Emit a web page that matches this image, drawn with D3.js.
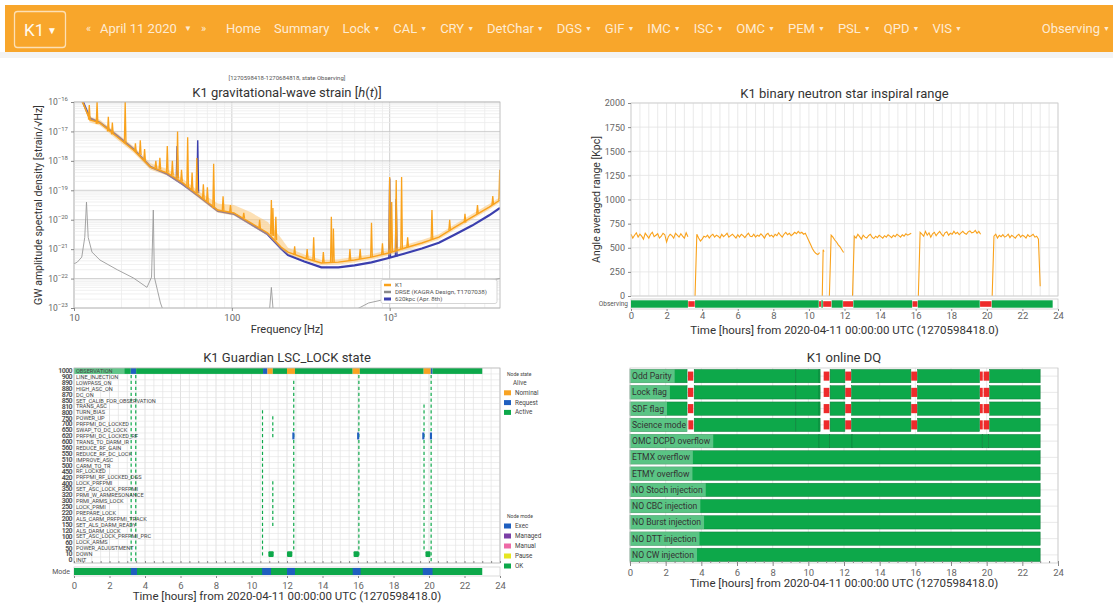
<!DOCTYPE html>
<html><head><meta charset="utf-8">
<script src="https://cdn.jsdelivr.net/npm/d3@7"></script>
<style>
body{margin:0;background:#fff;font-family:Roboto,"Open Sans",sans-serif;}
svg{display:block}
</style></head><body>
<svg id="c" width="1113" height="604"></svg>
<script>
// ---------------- DATA ----------------
const navItems = ["Home","Summary","Lock","CAL","CRY","DetChar","DGS","GIF","IMC","ISC","OMC","PEM","PSL","QPD","VIS"];
const navDropdown = [false,false,true,true,true,true,true,true,true,true,true,true,true,true,true];

// spectrum (log10 ASD)
const specFreq = [10.5,11.4,12.6,14.6,18.8,23.8,30.5,39,49,63.5,81.5,103,132,169,205,227,288,369,473,598,767,986,1247,1600,2050,2594,3327,4270,5000];
const k1Asd  = [-15.7,-16.03,-16.61,-16.71,-17.19,-17.63,-18.21,-18.41,-18.75,-19.23,-19.67,-19.77,-20.11,-20.45,-20.93,-21.10,-21.30,-21.47,-21.44,-21.37,-21.27,-21.13,-20.96,-20.79,-20.59,-20.25,-19.91,-19.57,-19.33];
const k1Hi   = [-15.62,-15.95,-16.5,-16.6,-17.07,-17.5,-18.08,-18.28,-18.62,-19.08,-19.45,-19.5,-19.75,-20.08,-20.62,-20.95,-21.18,-21.36,-21.34,-21.27,-21.17,-21.03,-20.86,-20.69,-20.49,-20.15,-19.81,-19.47,-19.24];
const k1Lo   = [-15.78,-16.1,-16.7,-16.8,-17.28,-17.72,-18.3,-18.5,-18.84,-19.32,-19.76,-19.86,-20.2,-20.54,-21.0,-21.18,-21.38,-21.55,-21.52,-21.45,-21.35,-21.21,-21.04,-20.87,-20.67,-20.33,-19.99,-19.65,-19.41];
const refAsd = [-15.7,-16.0,-16.55,-16.7,-17.15,-17.6,-18.2,-18.45,-18.8,-19.25,-19.7,-19.8,-20.15,-20.5,-20.98,-21.2,-21.42,-21.62,-21.62,-21.55,-21.45,-21.3,-21.15,-20.98,-20.78,-20.5,-20.2,-19.85,-19.6];
// spectral lines: [freq, base, peak]
const k1Lines = [[12.5,-16.6,-16.1],[14,-16.75,-16.0],[16.5,-17.0,-16.5],[17.5,-17.1,-16.7],[21.1,-17.4,-16.0],[24.5,-17.7,-17.4],[26.3,-17.8,-17.3],[28,-18.0,-17.6],[33,-18.25,-18.0],[35,-18.3,-17.9],[39,-18.4,-17.5],[42,-18.5,-18.0],[45.3,-18.6,-17.0],[48,-18.7,-18.3],[52.5,-18.9,-17.2],[56,-19.0,-18.4],[60,-19.1,-17.9],[66,-19.3,-18.8],[70,-19.4,-18.9],[76.7,-19.6,-18.1],[88,-19.7,-19.2],[98,-19.75,-19.5],[119,-19.95,-19.77],[150,-20.3,-20.0],[178,-20.5,-19.33],[182,-20.55,-19.6],[190,-20.7,-19.9],[250,-21.2,-20.9],[300,-21.3,-21.0],[330,-21.38,-20.6],[380,-21.47,-21.1],[427,-21.45,-19.9],[440,-21.45,-20.3],[560,-21.38,-21.0],[650,-21.33,-21.0],[767,-21.27,-20.1],[900,-21.18,-20.8],[1000,-21.13,-18.55],[1030,-21.1,-19.4],[1100,-21.05,-18.65],[1190,-21.0,-18.55],[1300,-20.93,-20.6],[1853,-20.68,-19.67],[2400,-20.35,-20.0],[3000,-20.1,-19.8],[3600,-19.8,-19.5],[4500,-19.5,-19.2],[4980,-19.33,-18.3]];
const refLines = [[45,-18.6,-17.5],[60.8,-19.1,-17.3],[1000,-21.3,-18.6],[1100,-21.25,-19.3]];
const designFreq = [10,10.5,11.2,11.7,12.0,12.3,13.0,14.6,18.8,23.8,29,31,31.8,32.3,33.8,35.3,38,172,178,184,500,735,890,1200,2000,5000];
const designAsd  = [-21.5,-21.44,-21.27,-20.6,-19.4,-20.6,-21.1,-21.37,-21.7,-21.98,-22.3,-21.95,-19.67,-21.95,-22.4,-22.83,-23.3,-23.3,-22.3,-23.3,-23.3,-22.83,-22.73,-22.6,-22.4,-22.0];
const specLegend = ["K1","DRSE (KAGRA Design, T1707038)","620kpc (Apr. 8th)"];

// BNS range: [start hour, step, values in kpc]
const rangeSegments = [
 [0,0.1,[640,600,630,655,610,640,620,590,650,625,600,640,660,615,630,645,600,620,650,635,560,615,640,625,600,650,630,610,645,620,600,655,615]],
 [3.6,0.1,[0,640,600,570,590,620,610,630,600,625, 640,610,630,620,600,640,615,630,650,610, 625,640,620,600,635,610,640,625,605,630, 650,620,615,640,610,630,620,645,625,600, 635,650,620,630,610,640,625,655,630,610, 640,660,635,650,625,640,660,645,670,650, 660,640,650,610,570,530,490,460,440,430, 450]],
 [10.75,0.05,[0,480,460]],
 [11.15,0.1,[0,630,610,580,560,530,510,480,450]],
 [12.45,0.1,[0,620,600,640,615,590,630,610,600,625, 640,610,595,620,605,630,615,600,625,610, 635,620,605,630,615,640,625,610,635,620, 645,630,640,650]],
 [16.15,0.1,[0,660,640,620,670,630,655,610,645,660, 625,650,670,640,620,655,665,630,650,640, 670,645,660,635,655,670,650,640,665,675, 655,660,680,650,670,640]],
 [20.3,0.1,[0,620,640,600,630,615,635,610,620,640, 605,630,615,600,625,640,610,630,620,600, 635,615,625,640,610,620,590,100]]
];
const rangeTicks = [0,250,500,750,1000,1250,1500,1750,2000];
const obsActive = [[0,3.2],[3.6,10.55],[10.7,10.78],[11.28,11.9],[12.5,15.8],[16.12,19.6],[20.28,23.7]];
const obsInactive = [[3.22,3.58],[10.57,10.68],[10.8,11.26],[11.92,12.48],[15.82,16.1],[19.62,20.26]];
const hourTicks = [0,2,4,6,8,10,12,14,16,18,20,22,24];

// Guardian
const stateNames = ["OBSERVATION","LINE_INJECTION","LOWPASS_ON","HIGH_ASC_ON","DC_ON","SET_CALIB_FOR_OBSERVATION","TRANS_ASC","TURN_BIAS","POWER_UP","PRFPMI_DC_LOCKED","SWAP_TO_DC_LOCK","PRFPMI_DC_LOCKED_RF","TRANS_TO_DARM_IR","REDUCE_RF_GAIN","REDUCE_RF_DC_LOCK","IMPROVE_ASC","CARM_TO_TR","RF_LOCKED","PRFPMI_RF_LOCKED_DGS","LOCK_PRFPMI","SET_ASC_LOCK_PRFPMI","PRMI_W_ARMRESONANCE","PRMI_ARMS_LOCK","LOCK_PRMI","PREPARE_LOCK","ALS_CARM_PRFPMI_TRACK","SET_ALS_DARM_READY","ALS_DARM_LOCK","SET_ASC_LOCK_PRFPMI_PRC","LOCK_ARMS","POWER_ADJUSTMENT","DOWN","INIT"];
const stateIndex = [1000,900,890,880,870,850,810,800,750,700,650,620,600,560,550,510,500,450,420,400,350,320,300,250,220,200,150,120,100,60,50,10,0];
// top row node state: [start, end, kind]
const topRowSegs = [[0,3.2,"active"],[3.2,3.5,"request"],[3.5,10.65,"active"],[10.65,10.9,"request"],[10.9,11.2,"nominal"],[11.2,12.0,"active"],[12.0,12.45,"nominal"],[12.45,15.7,"active"],[15.7,16.1,"nominal"],[16.1,19.7,"active"],[19.7,20.1,"nominal"],[20.1,20.2,"request"],[20.2,23.0,"active"]];
// transitions: [hour, first row, last row]
const transitions = [[3.22,1,32],[3.48,1,32],[10.62,7,31],[11.2,8,11],[11.2,19,26],[12.38,2,30],[16.05,1,31],[19.72,6,30],[20.12,1,32]];
const requestMarks = [[12.3,12.42,11],[15.95,16.07,11],[19.62,19.74,11],[20.05,20.17,11]];
const downMarks = [[10.95,11.25,31],[12.0,12.3,31],[15.75,16.05,31],[19.8,20.08,31]];
const modeExec = [[3.2,3.55],[10.6,11.1],[12.0,12.45],[15.7,16.15],[19.65,20.2]];
const modeEnd = 23.0;
const nodeStateLegend = [["Alive",null],["Nominal","nominal"],["Request","request"],["Active","active"]];
const nodeModeLegend = [["Exec","#1f5fbf"],["Managed","#7b3fa6"],["Manual","#ee6aa7"],["Pause","#e6e621"],["OK","#0da84a"]];

// Online DQ
const dqFlags = ["Odd Parity","Lock flag","SDF flag","Science mode","OMC DCPD overflow","ETMX overflow","ETMY overflow","NO Stoch injection","NO CBC injection","NO Burst injection","NO DTT injection","NO CW injection"];
const dqMainActive = [[0,3.2],[3.6,9.3],[9.3,10.6],[10.6,10.66],[11.22,12.05],[12.42,15.75],[16.12,19.6],[20.17,23.0]];
const dqMainInactive = [[3.25,3.55],[10.62,10.66],[10.86,11.18],[12.07,12.4],[15.77,16.1],[19.62,19.78],[19.83,20.15]];
const dqOmcActive = [[0,10.6],[10.6,11.2],[11.2,12.45],[12.45,19.75],[19.75,20.1],[20.1,23.0]];
const dqFullActive = [[0,23.0]];

// ---------------- DRAW ----------------
const svg = d3.select('#c');
const defs = svg.append('defs');
const GREEN = '#0da84a', RED = '#ee2b2b', BLUE = '#1f5fbf', ORANGE = '#f8a323';
const kindColor = {active:GREEN, request:BLUE, nominal:ORANGE};
const TXT = '#333', TICK = '#666', GRID = '#e3e3e3';

// header
svg.append('rect').attr('x',0).attr('y',52).attr('width',1113).attr('height',6).attr('fill','#f3f3f3');
svg.append('rect').attr('x',5).attr('y',5).attr('width',1108).attr('height',47).attr('fill','#f8a62b');
svg.append('rect').attr('x',14.5).attr('y',11.5).attr('width',51).attr('height',36).attr('rx',3)
  .attr('fill','none').attr('stroke','rgba(255,255,255,0.65)').attr('stroke-width',1.3);
svg.append('text').attr('x',24).attr('y',36).attr('font-size',17).attr('fill','#fffaf0').text('K1');
svg.append('text').attr('x',47).attr('y',34).attr('font-size',10).attr('fill','#fffaf0').text('▼');
const navCol = 'rgba(255,255,255,0.8)';
svg.append('text').attr('x',86).attr('y',32).attr('font-size',11).attr('fill',navCol).text('«');
svg.append('text').attr('x',100).attr('y',33).attr('font-size',13).attr('fill',navCol).text('April 11 2020');
svg.append('text').attr('x',184).attr('y',31).attr('font-size',8).attr('fill',navCol).text('▼');
svg.append('text').attr('x',201).attr('y',32).attr('font-size',11).attr('fill',navCol).text('»');
let nx = 226;
navItems.forEach((n,i)=>{
  const t = svg.append('text').attr('x',nx).attr('y',33).attr('font-size',13).attr('fill',navCol).text(n);
  if(navDropdown[i]) t.append('tspan').attr('font-size',7).attr('dx',3).attr('dy',-2).text('▼');
  nx += t.node().getBBox().width + 13;
});
const obsT = svg.append('text').attr('x',1110).attr('y',33).attr('font-size',13).attr('fill',navCol).attr('text-anchor','end').text('Observing');
obsT.append('tspan').attr('font-size',7).attr('dx',3).attr('dy',-2).text('▼');

function styleAxis(g, fs){
  g.select('.domain').remove();
  g.selectAll('.tick line').attr('stroke','#888');
  g.selectAll('.tick text').attr('fill',TICK).attr('font-size',fs||9.5).attr('font-family','Roboto,sans-serif');
}
function sup(sel, base, exp){
  sel.text(null);
  sel.append('tspan').text(base);
  sel.append('tspan').attr('dy',-4).attr('font-size',6).text(exp);
}

// ===== Panel 1: spectrum =====
(function(){
  const L=74,R=500,T=102,B=308;
  const fx = d3.scaleLog().domain([10,5000]).range([L,R]);
  const fy = d3.scaleLog().domain([1e-23,1e-16]).range([B,T]);
  const g = svg.append('g');
  g.append('rect').attr('x',L).attr('y',T).attr('width',R-L).attr('height',B-T).attr('fill','#fff');
  defs.append('clipPath').attr('id','cp1').append('rect').attr('x',L).attr('y',T).attr('width',R-L).attr('height',B-T);
  const isMajor = v => Math.abs(Math.log10(v) - Math.round(Math.log10(v))) < 1e-6;
  g.selectAll('.gx').data(fx.ticks()).join('line').attr('x1',d=>fx(d)).attr('x2',d=>fx(d)).attr('y1',T).attr('y2',B)
    .attr('stroke',d=>isMajor(d)?'#c4c4c4':'#ececec').attr('stroke-width',0.8);
  g.selectAll('.gy').data(fy.ticks()).join('line').attr('y1',d=>fy(d)).attr('y2',d=>fy(d)).attr('x1',L).attr('x2',R)
    .attr('stroke',d=>isMajor(d)?'#c4c4c4':'#ececec').attr('stroke-width',0.8);
  const pg = g.append('g').attr('clip-path','url(#cp1)');
  const line = d3.line().x(d=>fx(d[0])).y(d=>fy(Math.pow(10,d[1])));
  pg.append('path').attr('d',line(designFreq.map((f,i)=>[f,designAsd[i]]))).attr('fill','none').attr('stroke','#9a9a9a').attr('stroke-width',0.9);
  pg.append('path').attr('d',line(specFreq.map((f,i)=>[f,refAsd[i]]))).attr('fill','none').attr('stroke','#3b3fae').attr('stroke-width',2.2);
  const spikePath = d => `M${fx(d[0]*0.988)},${fy(Math.pow(10,d[1]))}L${fx(d[0])},${fy(Math.pow(10,d[2]))}L${fx(d[0]*1.012)},${fy(Math.pow(10,d[1]))}`;
  pg.selectAll('.rl').data(refLines).join('path').attr('d',spikePath).attr('fill','none').attr('stroke','#3b3fae').attr('stroke-width',1.4);
  const area = d3.area().x(d=>fx(d[0])).y0(d=>fy(Math.pow(10,d[1]))).y1(d=>fy(Math.pow(10,d[2])));
  pg.append('path').attr('d',area(specFreq.map((f,i)=>[f,k1Lo[i],k1Hi[i]]))).attr('fill','#fbc26a').attr('opacity',0.5);
  pg.append('path').attr('d',line(specFreq.map((f,i)=>[f,k1Asd[i]]))).attr('fill','none').attr('stroke','#f9a21c').attr('stroke-width',1.4);
  pg.selectAll('.kl').data(k1Lines).join('path').attr('d',spikePath).attr('fill','none').attr('stroke','#f9a21c').attr('stroke-width',1.3);
  g.append('rect').attr('x',L).attr('y',T).attr('width',R-L).attr('height',B-T).attr('fill','none').attr('stroke','#bbb').attr('stroke-width',0.8);
  // axes
  const ax = g.append('g').attr('transform',`translate(0,${B})`).call(d3.axisBottom(fx).tickValues([10,100,1000]).tickSize(3).tickFormat(d=>d));
  styleAxis(ax);
  ax.selectAll('.tick text').filter(d=>d===1000).each(function(){sup(d3.select(this),'10','3');});
  const ay = g.append('g').attr('transform',`translate(${L},0)`).call(d3.axisLeft(fy).tickValues(d3.range(-23,-15).map(e=>Math.pow(10,e))).tickSize(3).tickFormat(()=>''));
  styleAxis(ay, 8.5);
  ay.selectAll('.tick text').each(function(d){sup(d3.select(this),'10','−'+Math.round(-Math.log10(d)));});
  // legend
  const lg = g.append('g');
  lg.append('rect').attr('x',381).attr('y',279.5).attr('width',116).attr('height',24).attr('rx',2).attr('fill','#fff').attr('stroke','#ccc').attr('stroke-width',0.8);
  const lc = ['#f9a21c','#8a8a8a','#3b3fae'];
  specLegend.forEach((s,i)=>{
    lg.append('line').attr('x1',384).attr('x2',391).attr('y1',285+i*7).attr('y2',285+i*7).attr('stroke',lc[i]).attr('stroke-width',i===2?3:2.5);
    lg.append('text').attr('x',395).attr('y',287.3+i*7).attr('font-size',6.2).attr('fill','#555').text(s);
  });
  // titles
  svg.append('text').attr('x',287).attr('y',80).attr('text-anchor','middle').attr('font-size',6).attr('fill','#555').text('[1270598418-1270684818, state Observing]');
  const tt = svg.append('text').attr('x',287).attr('y',97).attr('text-anchor','middle').attr('font-size',13).attr('fill',TXT);
  tt.append('tspan').text('K1 gravitational-wave strain [');
  tt.append('tspan').attr('font-style','italic').text('h');
  tt.append('tspan').text('(');
  tt.append('tspan').attr('font-style','italic').text('t');
  tt.append('tspan').text(')]');
  svg.append('text').attr('x',287).attr('y',333).attr('text-anchor','middle').attr('font-size',11).attr('fill',TXT).text('Frequency [Hz]');
  svg.append('text').attr('transform',`translate(42,${(T+B)/2}) rotate(-90)`).attr('text-anchor','middle').attr('font-size',10.5).attr('fill',TXT).text('GW amplitude spectral density [strain/√Hz]');
})();

// ===== Panel 2: range =====
(function(){
  const L=631,R=1058,T=103,B=296;
  const x = d3.scaleLinear().domain([0,24]).range([L,R]);
  const y = d3.scaleLinear().domain([0,2000]).range([B,T]);
  const g = svg.append('g');
  g.selectAll('.gx').data(d3.range(0,24.01,0.5)).join('line').attr('x1',d=>x(d)).attr('x2',d=>x(d)).attr('y1',T).attr('y2',B).attr('stroke',GRID).attr('stroke-width',0.8);
  g.selectAll('.gy').data(rangeTicks).join('line').attr('y1',d=>y(d)).attr('y2',d=>y(d)).attr('x1',L).attr('x2',R).attr('stroke',GRID).attr('stroke-width',0.8);
  const line = d3.line().x(d=>x(d[0])).y(d=>y(d[1]));
  rangeSegments.forEach(s=>{
    const pts = s[2].map((v,i)=>[s[0]+i*s[1],v]);
    g.append('path').attr('d',line(pts)).attr('fill','none').attr('stroke','#f9a21c').attr('stroke-width',1.1);
  });
  g.append('rect').attr('x',L).attr('y',T).attr('width',R-L).attr('height',B-T).attr('fill','none').attr('stroke','#ccc').attr('stroke-width',0.8);
  const ay = g.append('g').attr('transform',`translate(${L},0)`).call(d3.axisLeft(y).tickValues(rangeTicks).tickSize(3).tickFormat(d3.format('d')));
  styleAxis(ay,9);
  // observing bar
  const sb = g.append('g');
  const s0=299, s1=309;
  sb.append('rect').attr('x',L).attr('y',s0).attr('width',R-L).attr('height',s1-s0).attr('fill','#fff').attr('stroke','#ccc').attr('stroke-width',0.8);
  sb.selectAll('.ina').data(obsInactive).join('rect').attr('x',d=>x(d[0])).attr('width',d=>x(d[1])-x(d[0])).attr('y',s0+2.2).attr('height',s1-s0-4.4).attr('fill',RED);
  sb.selectAll('.act').data(obsActive).join('rect').attr('x',d=>x(d[0])).attr('width',d=>x(d[1])-x(d[0])).attr('y',s0+1.3).attr('height',s1-s0-2.6).attr('fill',GREEN);
  sb.append('text').attr('x',L-3).attr('y',306).attr('text-anchor','end').attr('font-size',6.5).attr('fill','#555').text('Observing');
  const ax = g.append('g').attr('transform',`translate(0,${s1})`).call(d3.axisBottom(x).tickValues(hourTicks).tickSize(2).tickPadding(1));
  styleAxis(ax,9.5);
  svg.append('text').attr('x',(L+R)/2).attr('y',98).attr('text-anchor','middle').attr('font-size',13).attr('fill',TXT).text('K1 binary neutron star inspiral range');
  svg.append('text').attr('x',(L+R)/2).attr('y',334).attr('text-anchor','middle').attr('font-size',11.5).attr('fill',TXT).text('Time [hours] from 2020-04-11 00:00:00 UTC (1270598418.0)');
  svg.append('text').attr('transform',`translate(600,${(T+B)/2}) rotate(-90)`).attr('text-anchor','middle').attr('font-size',10.5).attr('fill',TXT).text('Angle averaged range [Kpc]');
})();

// ===== Panel 3: guardian =====
(function(){
  const L=74,R=500,T=368,B=563;
  const x = d3.scaleLinear().domain([0,24]).range([L,R]);
  const y = d3.scaleBand().domain(d3.range(stateNames.length)).range([T,B]);
  const bw = y.bandwidth();
  const g = svg.append('g');
  g.selectAll('.gx').data(d3.range(0,24.01,0.5)).join('line').attr('x1',d=>x(d)).attr('x2',d=>x(d)).attr('y1',T).attr('y2',B).attr('stroke',d=>d%2===0?'#d4d4d4':GRID).attr('stroke-width',0.7);
  g.selectAll('.gy').data(d3.range(stateNames.length+1)).join('line').attr('y1',d=>T+d*bw).attr('y2',d=>T+d*bw).attr('x1',L).attr('x2',R).attr('stroke',GRID).attr('stroke-width',0.6);
  g.selectAll('.tr').data(transitions).join('line').attr('x1',d=>x(d[0])).attr('x2',d=>x(d[0])).attr('y1',d=>y(d[1])+1).attr('y2',d=>y(d[2])+bw-1)
    .attr('stroke',GREEN).attr('stroke-width',1.2).attr('stroke-dasharray',`${(bw*0.55).toFixed(2)},${(bw*0.45).toFixed(2)}`);
  g.selectAll('.rq').data(requestMarks).join('rect').attr('x',d=>x(d[0])).attr('width',d=>x(d[1])-x(d[0])).attr('y',d=>y(d[2])-0.5).attr('height',bw+1).attr('fill',BLUE);
  g.selectAll('.dn').data(downMarks).join('rect').attr('x',d=>x(d[0])).attr('width',d=>x(d[1])-x(d[0])).attr('y',d=>y(d[2])).attr('height',bw).attr('rx',1).attr('fill',GREEN);
  g.selectAll('.top').data(topRowSegs).join('rect').attr('x',d=>x(d[0])).attr('width',d=>x(d[1])-x(d[0])).attr('y',y(0)).attr('height',bw).attr('fill',d=>kindColor[d[2]]);
  stateNames.forEach((n,i)=>{
    const t = g.append('text').attr('x',L+2).attr('y',y(i)+bw/2+2).attr('font-size',5.6).attr('fill','#444').text(n);
    if(i===0){
      const w = t.node().getComputedTextLength();
      g.insert('rect','text').attr('x',L).attr('y',y(0)).attr('width',w+14).attr('height',bw).attr('fill','rgba(255,255,255,0.35)');
    }
    g.append('text').attr('x',L-2).attr('y',y(i)+bw/2+2.3).attr('text-anchor','end').attr('font-size',7).attr('font-weight','bold').attr('fill','#555').attr('letter-spacing',-0.6).text(stateIndex[i]);
  });
  g.append('rect').attr('x',L).attr('y',T).attr('width',R-L).attr('height',B-T).attr('fill','none').attr('stroke','#bbb').attr('stroke-width',0.8);
  const m0=567, m1=576;
  g.append('rect').attr('x',L).attr('y',m0).attr('width',R-L).attr('height',m1-m0).attr('fill','#fff').attr('stroke','#ccc').attr('stroke-width',0.7);
  g.append('rect').attr('x',x(0)).attr('width',x(modeEnd)-x(0)).attr('y',m0+1).attr('height',m1-m0-2).attr('fill',GREEN);
  g.selectAll('.me').data(modeExec).join('rect').attr('x',d=>x(d[0])).attr('width',d=>x(d[1])-x(d[0])).attr('y',m0+1).attr('height',m1-m0-2).attr('fill',BLUE);
  g.append('text').attr('x',L-4).attr('y',574).attr('text-anchor','end').attr('font-size',7).attr('fill','#555').text('Mode');
  const mt = g.append('g').attr('transform',`translate(0,${B})`).call(d3.axisTop(x).tickValues(d3.range(0,24.01,0.5)).tickSize(2).tickFormat(''));
  styleAxis(mt);
  const ax = g.append('g').attr('transform',`translate(0,${m1})`).call(d3.axisBottom(x).tickValues(hourTicks).tickSize(2));
  styleAxis(ax,9.5);
  ax.selectAll('.tick text').attr('dy','0.8em');
  const lg = g.append('g').attr('font-size',6.3).attr('fill','#444');
  lg.append('text').attr('x',507).attr('y',376).attr('font-size',5).text('Node state');
  nodeStateLegend.forEach((d,i)=>{
    const yy = 385+i*9.8;
    if(d[1]) lg.append('rect').attr('x',504).attr('y',yy-4.5).attr('width',7).attr('height',5).attr('fill',kindColor[d[1]]);
    lg.append('text').attr('x',d[1]?515:513).attr('y',yy).text(d[0]);
  });
  lg.append('text').attr('x',507).attr('y',518).attr('font-size',5).text('Node mode');
  nodeModeLegend.forEach((d,i)=>{
    const yy = 528+i*10;
    lg.append('rect').attr('x',504).attr('y',yy-4.5).attr('width',7).attr('height',5).attr('fill',d[1]);
    lg.append('text').attr('x',515).attr('y',yy).text(d[0]);
  });
  svg.append('text').attr('x',(L+R)/2).attr('y',362).attr('text-anchor','middle').attr('font-size',13).attr('fill',TXT).text('K1 Guardian LSC_LOCK state');
  svg.append('text').attr('x',(L+R)/2).attr('y',600).attr('text-anchor','middle').attr('font-size',11.5).attr('fill',TXT).text('Time [hours] from 2020-04-11 00:00:00 UTC (1270598418.0)');
})();

// ===== Panel 4: DQ =====
(function(){
  const L=630,R=1058,T=368,B=563;
  const x = d3.scaleLinear().domain([0,24]).range([L,R]);
  const y = d3.scaleBand().domain(d3.range(dqFlags.length)).range([T,B]);
  const bw = y.bandwidth();
  const g = svg.append('g');
  g.selectAll('.gx').data(d3.range(0,24.01,2)).join('line').attr('x1',d=>x(d)).attr('x2',d=>x(d)).attr('y1',T).attr('y2',B).attr('stroke',GRID).attr('stroke-width',0.8);
  g.selectAll('.gy').data(d3.range(dqFlags.length)).join('line').attr('y1',d=>y(d)+bw/2).attr('y2',d=>y(d)+bw/2).attr('x1',L).attr('x2',R).attr('stroke',GRID).attr('stroke-width',0.8);
  dqFlags.forEach((f,i)=>{
    const act = i<4 ? dqMainActive : (i===4 ? dqOmcActive : dqFullActive);
    const ina = i<4 ? dqMainInactive : [];
    const row = g.append('g');
    row.selectAll('.i').data(ina).join('rect').attr('x',d=>x(d[0])).attr('width',d=>x(d[1])-x(d[0])).attr('y',y(i)+bw*0.22).attr('height',bw*0.56).attr('fill',RED);
    row.selectAll('.a').data(act).join('rect').attr('x',d=>x(d[0])).attr('width',d=>x(d[1])-x(d[0])).attr('y',y(i)+bw*0.09).attr('height',bw*0.82)
      .attr('fill',GREEN).attr('stroke','#0b7a37').attr('stroke-width',0.5);
    const t = row.append('text').attr('x',L+2).attr('y',y(i)+bw/2+3).attr('font-size',8.6).attr('fill','#333').text(f);
    const w = t.node().getComputedTextLength();
    row.insert('rect','text').attr('x',L).attr('y',y(i)+bw*0.09).attr('width',w+5).attr('height',bw*0.82).attr('fill','rgba(255,255,255,0.32)');
  });
  g.append('rect').attr('x',L).attr('y',T).attr('width',R-L).attr('height',B-T).attr('fill','none').attr('stroke','#ccc').attr('stroke-width',0.8);
  const mt = g.append('g').attr('transform',`translate(0,${B})`).call(d3.axisTop(x).tickValues(d3.range(0,24.01,0.5)).tickSize(2).tickFormat(''));
  styleAxis(mt);
  const ax = g.append('g').attr('transform',`translate(0,${B})`).call(d3.axisBottom(x).tickValues(hourTicks).tickSize(3));
  styleAxis(ax,9.5);
  svg.append('text').attr('x',(L+R)/2).attr('y',362).attr('text-anchor','middle').attr('font-size',13).attr('fill',TXT).text('K1 online DQ');
  svg.append('text').attr('x',(L+R)/2).attr('y',587).attr('text-anchor','middle').attr('font-size',11.5).attr('fill',TXT).text('Time [hours] from 2020-04-11 00:00:00 UTC (1270598418.0)');
})();
</script></body></html>
